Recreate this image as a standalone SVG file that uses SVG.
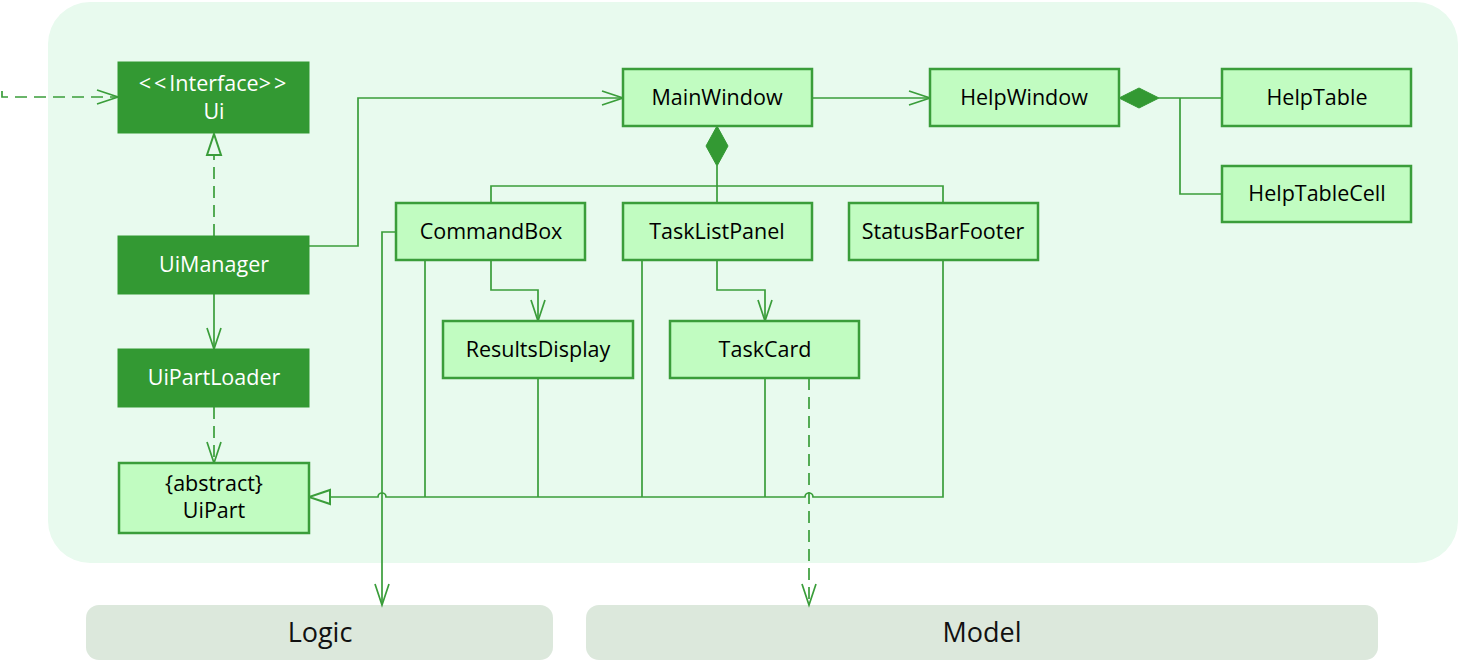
<svg xmlns="http://www.w3.org/2000/svg" width="1460" height="665" viewBox="0 0 1460 665">
<style>
.dark rect{fill:#339933;stroke:#339933;stroke-width:1}
.dark text{fill:#ffffff}
.light rect{fill:#c1fcc1;stroke:#3a9d3a;stroke-width:2.5}
.light text{fill:#000000}
text{font-family:"Open Sans","Noto Sans","Liberation Sans",sans-serif;font-size:21.5px;text-anchor:middle}
.pkg rect{fill:#dce8dc}
.pkg text{font-size:27px;fill:#111}
.c{fill:none;stroke:#3a9d3a;stroke-width:1.7}
.d{stroke-dasharray:12 7}
.dia{fill:#339933;stroke:#339933;stroke-width:1}
</style>
<defs>
<marker id="open" markerUnits="userSpaceOnUse" markerWidth="26" markerHeight="18" viewBox="0 0 26 18" refX="23" refY="9" orient="auto">
<path d="M2,2 L23,9 L2,16" fill="none" stroke="#3a9d3a" stroke-width="1.7"/>
</marker>
<marker id="tri" markerUnits="userSpaceOnUse" markerWidth="26" markerHeight="20" viewBox="0 0 26 20" refX="23" refY="10" orient="auto">
<path d="M2,3 L23,10 L2,17 Z" fill="#e8faee" stroke="#3a9d3a" stroke-width="2"/>
</marker>
</defs>
<rect x="48" y="2" width="1410" height="561" rx="42" fill="#e8faee"/>
<g id="pkg-logic" class="pkg"><rect x="86" y="605" width="467" height="55" rx="13"/><text x="320" y="642">Logic</text></g>
<g id="pkg-model" class="pkg"><rect x="586" y="605" width="792" height="55" rx="13"/><text x="982" y="642">Model</text></g>
<g id="connectors">
<path class="c d" d="M2,91 V97 H118" marker-end="url(#open)"/>
<path class="c d" d="M214,236 V134" marker-end="url(#tri)"/>
<path class="c" d="M214,294 V349" marker-end="url(#open)"/>
<path class="c d" d="M214,407 V463" marker-end="url(#open)"/>
<path class="c" d="M309,246 H358 V98 H623" marker-end="url(#open)"/>
<path class="c" d="M812,98 H930" marker-end="url(#open)"/>
<polygon class="dia" points="1119,98 1139,88 1159,98 1139,108"/>
<path class="c" d="M1159,98 H1222 M1180,98 V194 H1222"/>
<polygon class="dia" points="717,126 728,146 717,166 706,146"/>
<path class="c" d="M717,166 V203 M491,203 V186 H943 V203"/>
<path class="c" d="M491,260 V290 H538 V321" marker-end="url(#open)"/>
<path class="c" d="M717,260 V290 H765 V321" marker-end="url(#open)"/>
<path class="c" d="M943,260 V497 H813 A4,4 0 0 0 805,497 H386 A4,4 0 0 0 378,497 H309" marker-end="url(#tri)"/>
<path class="c" d="M425,260 V497 M538,378 V497 M642,260 V497 M765,378 V497"/>
<path class="c" d="M396,232 H382 V605" marker-end="url(#open)"/>
<path class="c d" d="M809,378 V605" marker-end="url(#open)"/>
</g>
<g id="ui" class="dark"><rect x="118" y="62" width="191" height="71"/><text x="214" y="91" font-size="21px"><tspan letter-spacing="3">&lt;&lt;</tspan>Interface<tspan letter-spacing="3">&gt;&gt;</tspan></text><text x="214" y="119">Ui</text></g>
<g id="uimanager" class="dark"><rect x="118" y="236" width="191" height="58"/><text x="214" y="272">UiManager</text></g>
<g id="uipartloader" class="dark"><rect x="118" y="349" width="191" height="58"/><text x="214" y="385">UiPartLoader</text></g>
<g id="uipart" class="light"><rect x="119" y="463" width="190" height="70"/><text x="214" y="491">{abstract}</text><text x="214" y="518">UiPart</text></g>
<g id="mainwindow" class="light"><rect x="623" y="69" width="189" height="57"/><text x="717" y="105">MainWindow</text></g>
<g id="helpwindow" class="light"><rect x="930" y="69" width="189" height="57"/><text x="1024" y="105">HelpWindow</text></g>
<g id="helptable" class="light"><rect x="1222" y="69" width="189" height="57"/><text x="1317" y="105">HelpTable</text></g>
<g id="helptablecell" class="light"><rect x="1222" y="166" width="189" height="56"/><text x="1317" y="201">HelpTableCell</text></g>
<g id="commandbox" class="light"><rect x="396" y="203" width="189" height="57"/><text x="491" y="239">CommandBox</text></g>
<g id="tasklistpanel" class="light"><rect x="623" y="203" width="189" height="57"/><text x="717" y="239">TaskListPanel</text></g>
<g id="statusbarfooter" class="light"><rect x="849" y="203" width="189" height="57"/><text x="943" y="239">StatusBarFooter</text></g>
<g id="resultsdisplay" class="light"><rect x="443" y="321" width="190" height="57"/><text x="538" y="357">ResultsDisplay</text></g>
<g id="taskcard" class="light"><rect x="670" y="321" width="189" height="57"/><text x="765" y="357">TaskCard</text></g>
</svg>
